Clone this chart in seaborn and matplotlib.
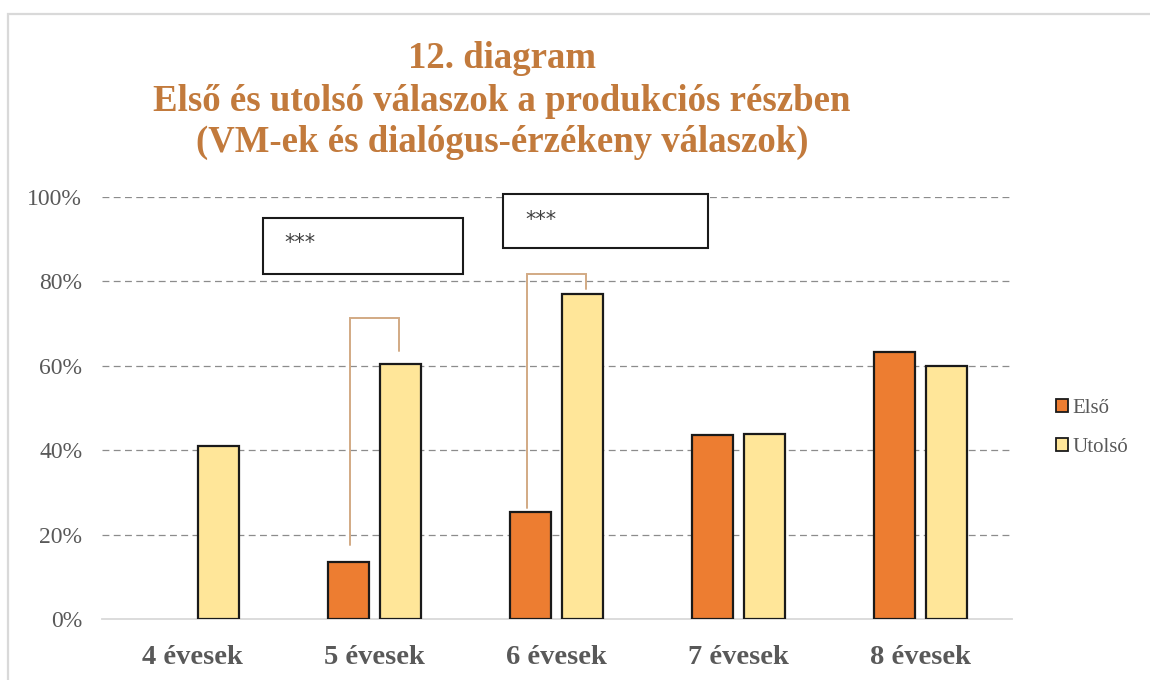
import numpy as np
import pandas as pd
import matplotlib
matplotlib.use("Agg")
import matplotlib.pyplot as plt
import seaborn as sns
from matplotlib.patches import Rectangle
from matplotlib.ticker import PercentFormatter

# ---- data ----
categories = ["4 évesek", "5 évesek", "6 évesek", "7 évesek", "8 évesek"]
series_names = ["Első", "Utolsó"]
elso = [np.nan, 13.5, 25.4, 43.5, 63.2]
utolso = [41.1, 60.4, 77.0, 43.9, 60.0]
y_ticks = [0, 20, 40, 60, 80, 100]
title_lines = ["12. diagram",
               "Első és utolsó válaszok a produkciós részben",
               "(VM-ek és dialógus-érzékeny válaszok)"]
sig_label = "***"

df = pd.DataFrame({
    "kor": categories * 2,
    "sorozat": [series_names[0]] * len(categories) + [series_names[1]] * len(categories),
    "ertek": elso + utolso,
})

sns.set_theme(style="white")
plt.rcParams["font.family"] = ["Liberation Serif", "DejaVu Serif"]

W, H = 1150, 680
fig = plt.figure(figsize=(W / 100, H / 100), dpi=100)
fig.patch.set_facecolor("white")

# outer chart-area frame
fig.add_artist(Rectangle((8 / W, -0.05), 1.2, 1 - 14 / H + 0.05, transform=fig.transFigure,
                         fill=False, edgecolor="#D9D9D9", lw=1.6, zorder=0))

ax = fig.add_axes([101.7 / W, 1 - 619 / H, 910 / W, (619 - 197) / H])
ax.set_facecolor("none")

colors = {"Első": "#ED7D31", "Utolsó": "#FFE699"}
sns.barplot(data=df, x="kor", y="ertek", hue="sorozat", hue_order=series_names,
            order=categories, palette=colors, saturation=1, width=0.567, gap=0.205,
            edgecolor="#1A1A1A", linewidth=1.6, errorbar=None, legend=True, ax=ax,
            zorder=3)

ax.set_xlim(-0.5, 4.5)
ax.set_ylim(0, 100)
ax.set_yticks(y_ticks)
ax.yaxis.set_major_formatter(PercentFormatter(decimals=0))
ax.set_xlabel("")
ax.set_ylabel("")

# grid
ax.grid(axis="y", color="#8C8C8C", linestyle=(0, (5.5, 3.5)), linewidth=0.9, zorder=1)
ax.grid(axis="x", visible=False)
ax.set_axisbelow(True)
ax.get_ygridlines()[0].set_visible(False)
for s in ["top", "right", "left"]:
    ax.spines[s].set_visible(False)
ax.spines["bottom"].set_color("#D9D9D9")
ax.spines["bottom"].set_linewidth(1.3)

ax.tick_params(axis="both", length=0)
ax.tick_params(axis="y", pad=14, labelsize=17, labelcolor="#595959")
ax.tick_params(axis="x", pad=19, labelsize=20.5, labelcolor="#595959")
for lab in ax.get_xticklabels():
    lab.set_fontweight("bold")

# significance boxes
boxes = [(0.385, 81.7, 1.102, 13.4), (1.707, 87.9, 1.123, 12.7)]
for (bx, by, bw, bh) in boxes:
    ax.add_patch(Rectangle((bx, by), bw, bh, facecolor="white", edgecolor="#1A1A1A",
                           lw=1.5, clip_on=False, zorder=5))
    ax.text(bx + 0.12, by + bh - 6.0, sig_label, fontsize=15, color="#404040",
            ha="left", va="center", zorder=6, clip_on=False,
            family=["DejaVu Sans"])

# brackets
bracket_color = "#D2AA84"
brackets = [(0.864, 1.135, 71.4, 17.5, 63.4), (1.838, 2.159, 81.7, 26.2, 78.3)]
for (x1, x2, top, b1, b2) in brackets:
    ax.plot([x1, x1, x2, x2], [b1, top, top, b2], color=bracket_color, lw=1.4,
            zorder=4, solid_joinstyle="miter")

# legend
leg = ax.legend(loc="center left", bbox_to_anchor=(1046 / W, 1 - 428 / H),
                bbox_transform=fig.transFigure, frameon=False, fontsize=15,
                handlelength=0.55, handleheight=0.55, handletextpad=0.2,
                labelspacing=0.95, borderpad=0)
for t in leg.get_texts():
    t.set_color("#595959")
for h in leg.legend_handles:
    h.set_edgecolor("#1A1A1A")
    h.set_linewidth(1.3)

# title
title_color = "#C27A3C"
baselines = [68, 111, 152]
for line, yb in zip(title_lines, baselines):
    fig.text(502 / W, 1 - yb / H, line, ha="center", va="baseline", fontsize=26.5,
             fontweight="bold", color=title_color)

fig.savefig("out.png", dpi=100, facecolor="white")
